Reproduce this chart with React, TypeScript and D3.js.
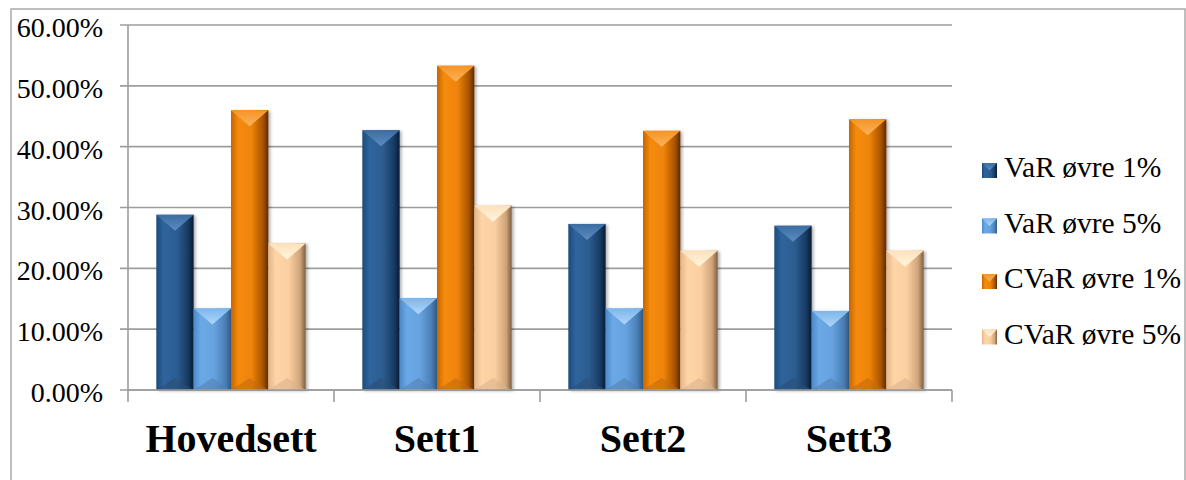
import React from "react";
import * as d3 from "d3";

const categories = ["Hovedsett", "Sett1", "Sett2", "Sett3"];
const seriesNames = ["VaR øvre 1%", "VaR øvre 5%", "CVaR øvre 1%", "CVaR øvre 5%"];
const varUpper1 = [0.288, 0.427, 0.273, 0.270];
const varUpper5 = [0.134, 0.151, 0.134, 0.130];
const cvarUpper1 = [0.460, 0.533, 0.426, 0.445];
const cvarUpper5 = [0.241, 0.303, 0.229, 0.229];
const yTicks = [0, 0.1, 0.2, 0.3, 0.4, 0.5, 0.6];

const seriesValues = [varUpper1, varUpper5, cvarUpper1, cvarUpper5];

// bevel palettes: body gradient (left, light, mid, dark, darkest) and top facet
const palettes = [
  { body: ["#1f4a7a", "#2f659c", "#2c5d91", "#173a62", "#0a1c33"], top: ["#5b8cc2", "#3b6ca2"], bottom: "#2a4f78" },
  { body: ["#4c89c9", "#6ca9e6", "#66a2df", "#4a7fb6", "#34597f"], top: ["#b0d6fa", "#7cb6ec"], bottom: "#4f7fae" },
  { body: ["#c86500", "#f58b0d", "#ef8408", "#a85400", "#5e2c00"], top: ["#fcb25c", "#f59425"], bottom: "#c06a12" },
  { body: ["#e3b587", "#fed5a8", "#fbcfa0", "#cfa47a", "#7d5f40"], top: ["#fff5df", "#fde1bb"], bottom: "#d8b08a" },
];

const FONT = "'Liberation Serif', 'Times New Roman', serif";

export default function App() {
  const W = 1186;
  const H = 480;
  const plotLeft = 128;
  const plotRight = 952;
  const y = d3.scaleLinear().domain([0, 0.6]).range([390, 25]);
  const x = d3.scaleBand<string>().domain(categories).range([plotLeft, plotRight]).paddingInner(0).paddingOuter(0);
  const groupWidth = x.bandwidth() * 0.725;
  const xs = d3.scaleBand<string>().domain(seriesNames).range([0, groupWidth]);
  const bw = xs.bandwidth();
  const bevel = 16;

  const bar = (si: number, ci: number) => {
    const v = seriesValues[si][ci];
    const x0 = (x(categories[ci]) as number) + (x.bandwidth() - groupWidth) / 2 + (xs(seriesNames[si]) as number);
    const y0 = y(v);
    const y1 = y(0);
    const x1 = x0 + bw;
    const xc = (x0 + x1) / 2;
    const h = y1 - y0;
    const tb = Math.min(bevel, h / 2);
    const bb = Math.min(12, h / 2);
    return (
      <g key={`${si}-${ci}`} filter="url(#shadow)">
        <rect x={x0} y={y0} width={bw} height={h} fill={`url(#body${si})`} />
        <polygon points={`${x0},${y0} ${x1},${y0} ${xc},${y0 + tb}`} fill={`url(#top${si})`} />
        <polygon points={`${x0},${y1} ${x1},${y1} ${xc},${y1 - bb}`} fill={palettes[si].bottom} opacity={0.55} />
      </g>
    );
  };

  const legendX = 982;
  const legendY0 = 163;
  const legendStep = 55.5;

  return (
    <svg width={W} height={H} style={{ position: "absolute", left: 0, top: 0, background: "#fff" }}>
      <defs>
        <filter id="shadow" x="-20%" y="-10%" width="150%" height="130%">
          <feDropShadow dx="2" dy="1" stdDeviation="1.6" floodColor="#000" floodOpacity="0.3" />
        </filter>
        {palettes.map((p, i) => (
          <React.Fragment key={i}>
            <linearGradient id={`body${i}`} x1="0" x2="1" y1="0" y2="0">
              <stop offset="0%" stopColor={p.body[0]} />
              <stop offset="20%" stopColor={p.body[1]} />
              <stop offset="55%" stopColor={p.body[2]} />
              <stop offset="85%" stopColor={p.body[3]} />
              <stop offset="100%" stopColor={p.body[4]} />
            </linearGradient>
            <linearGradient id={`top${i}`} x1="0" x2="0" y1="0" y2="1">
              <stop offset="0%" stopColor={p.top[1]} />
              <stop offset="100%" stopColor={p.top[0]} />
            </linearGradient>
          </React.Fragment>
        ))}
      </defs>

      {/* chart frame */}
      <rect x={11} y={9} width={1174} height={500} fill="none" stroke="#a9a9a9" strokeWidth={1.5} />

      {/* gridlines and value ticks */}
      {yTicks.map((t) => (
        <g key={t}>
          <line x1={plotLeft - 8} x2={plotRight} y1={y(t)} y2={y(t)} stroke="#9d9d9d" strokeWidth={1.6} />
          <text x={103} y={y(t) + 12} textAnchor="end" fontFamily={FONT} fontSize={28} fill="#000">
            {d3.format(".2%")(t)}
          </text>
        </g>
      ))}

      {/* value axis */}
      <line x1={plotLeft} x2={plotLeft} y1={y(0.6)} y2={y(0)} stroke="#9d9d9d" strokeWidth={1.6} />

      {/* bars */}
      {categories.map((_, ci) => seriesValues.map((__, si) => bar(si, ci)))}

      {/* category axis */}
      <line x1={plotLeft} x2={plotRight} y1={y(0)} y2={y(0)} stroke="#9d9d9d" strokeWidth={1.6} />
      {[...categories.map((c) => x(c) as number), plotRight].map((tx, i) => (
        <line key={i} x1={tx} x2={tx} y1={y(0)} y2={y(0) + 12} stroke="#9d9d9d" strokeWidth={1.6} />
      ))}
      {categories.map((c) => (
        <text
          key={c}
          x={(x(c) as number) + x.bandwidth() / 2}
          y={452}
          textAnchor="middle"
          fontFamily={FONT}
          fontWeight="bold"
          fontSize={40}
          fill="#000"
        >
          {c}
        </text>
      ))}

      {/* legend */}
      {seriesNames.map((name, si) => {
        const ly = legendY0 + si * legendStep;
        const s = 15;
        return (
          <g key={name}>
            <rect x={legendX} y={ly} width={s} height={s} fill={`url(#body${si})`} />
            <polygon points={`${legendX},${ly} ${legendX + s},${ly} ${legendX + s / 2},${ly + s / 2}`} fill={`url(#top${si})`} />
            <text x={1004} y={ly + 14} fontFamily={FONT} fontSize={29.5} fill="#000">
              {name}
            </text>
          </g>
        );
      })}
    </svg>
  );
}
